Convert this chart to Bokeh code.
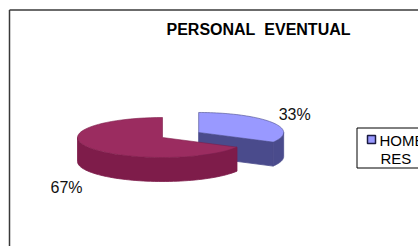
import numpy as np
from bokeh.plotting import figure
from bokeh.models import Range1d
from bokeh.core.properties import value
from bokeh.embed import file_html
from bokeh.resources import INLINE

# ---- data ----
title = "PERSONAL\u00a0 EVENTUAL"
categories = ["HOMBRES", "MUJERES"]
values = [33, 67]
labels = ["33%", "67%"]
legend_lines = ["HOMB", "RES"]   # "HOMBRES" wrapped and cut by the frame

top_colors = ["#9999FF", "#9B2C60"]
side_colors = ["#4A4B8C", "#7E1C4A"]

W, H = 418, 246
p = figure(width=W, height=H, output_backend="svg", toolbar_location=None,
           x_range=Range1d(0, W), y_range=Range1d(H, 0),
           x_axis_type=None, y_axis_type=None, min_border=0,
           outline_line_color=None, background_fill_color="white")
p.grid.visible = False

# pie geometry
rx, ry, depth = 85.0, 20.0, 24.0
base_cx, base_cy = 162.0, 137.0
explode = [42.0, 0.0]

fr = np.array(values, float) / sum(values)
starts = np.concatenate([[0], np.cumsum(fr)[:-1]]) * 2 * np.pi
ends = np.cumsum(fr) * 2 * np.pi

def pt(cx, cy, t):
    return cx + rx * np.sin(t), cy - ry * np.cos(t)

def arc(cx, cy, a0, a1, n=60):
    t = np.linspace(a0, a1, n)
    return list(cx + rx * np.sin(t)), list(cy - ry * np.cos(t))

centers = []
for i in range(len(values)):
    mid = (starts[i] + ends[i]) / 2
    cx = base_cx + explode[i] * np.sin(mid)
    cy = base_cy - explode[i] * np.cos(mid) * (ry / rx)
    centers.append((cx, cy))
    sx, sy = [], []
    # radial face at the end angle, visible when it faces the viewer
    a = ends[i]
    if a < np.pi:
        x1, y1 = pt(cx, cy, a)
        sx.append([cx, x1, x1, cx]); sy.append([cy, y1, y1 + depth, cy + depth])
    # rim on the front half
    lo = max(starts[i], np.pi / 2); hi = min(ends[i], 3 * np.pi / 2)
    if hi > lo:
        ax, ay = arc(cx, cy, lo, hi)
        sx.append(ax + ax[::-1]); sy.append(ay + [v + depth for v in ay[::-1]])
    p.patches(sx, sy, fill_color=side_colors[i], line_color=side_colors[i], line_width=0.8)
    ax, ay = arc(cx, cy, starts[i], ends[i])
    p.patch([cx] + ax, [cy] + ay, fill_color=top_colors[i],
            line_color=side_colors[i], line_width=0.6)

# percentage labels
lab_x = [centers[0][0] + 80, centers[1][0] - 112]
lab_y = [centers[0][1] - 18, centers[1][1] + 50]
p.text(x=lab_x, y=lab_y, text=labels, text_font=value("Liberation Sans"),
       text_font_size="16px", text_color="#111111", text_baseline="alphabetic")

# title
p.text(x=[258], y=[29], text=[title], text_font=value("Liberation Sans"),
       text_font_style="bold", text_font_size="16px", text_align="center",
       text_baseline="alphabetic", text_color="#000000")

# outer frame (left and top visible)
p.line(x=[9, 9], y=[9.5, H + 5], line_color="#3a3a3a", line_width=1.5)
p.line(x=[9, W + 5], y=[9.5, 9.5], line_color="#3a3a3a", line_width=1.5)

# legend (cut at the right edge)
p.quad(left=[356.5], right=[W + 10], top=[127.5], bottom=[167.5],
       fill_color="white", line_color="#000000", line_width=1)
p.quad(left=[367], right=[375], top=[135], bottom=[143],
       fill_color=top_colors[0], line_color="#1a1a40", line_width=1.5)
p.text(x=[379, 380], y=[140, 158], text=legend_lines, text_font=value("Liberation Sans"),
       text_font_size="15px", text_color="#000000", text_baseline="alphabetic")

open("out.html", "w").write(file_html(p, INLINE))
